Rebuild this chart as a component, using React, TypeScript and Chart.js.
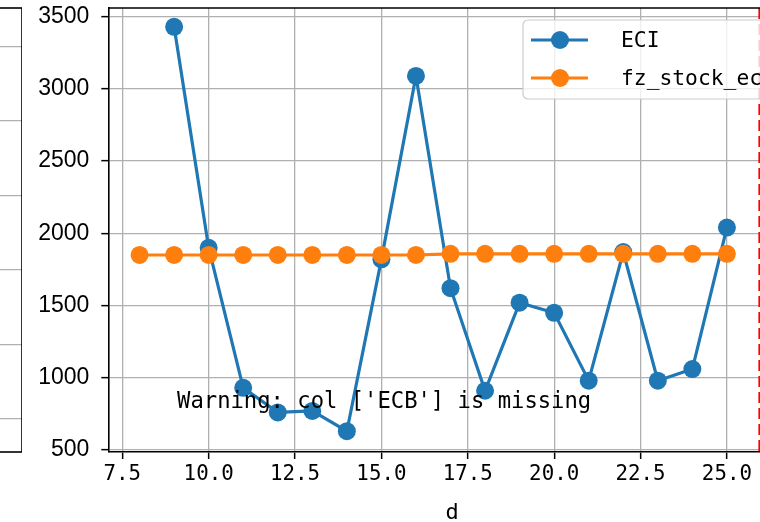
import React, { useEffect, useRef } from "react";
import { Chart, registerables } from "chart.js";

Chart.register(...registerables);

// ---- data ----
const ECI_X = [9, 10, 11, 12, 13, 14, 15, 16, 17, 18, 19, 20, 21, 22, 23, 24, 25];
const ECI_VALUES = [3430, 1900, 930, 760, 770, 630, 1820, 3090, 1620, 910, 1520, 1450, 980, 1870, 980, 1060, 2040];
const FZ_X = [8, 9, 10, 11, 12, 13, 14, 15, 16, 17, 18, 19, 20, 21, 22, 23, 24, 25];
const FZ_VALUES = [1850, 1850, 1850, 1850, 1850, 1850, 1850, 1850, 1850, 1858, 1858, 1858, 1858, 1858, 1858, 1858, 1858, 1858];
const SERIES_LABELS = ["ECI", "fz_stock_eci"];
const X_TICKS = [7.5, 10, 12.5, 15, 17.5, 20, 22.5, 25];
const Y_TICKS = [500, 1000, 1500, 2000, 2500, 3000, 3500];
const X_RANGE = [7.095, 27.0];
const Y_RANGE = [486, 3560];
const MARKER_LINE_X = 25.94;
const X_TITLE = "d";
const WARNING_TEXT = "Warning: col ['ECB'] is missing";
const LEFT_TICKS = [1, 2, 3, 4, 5, 6];
const LEFT_RANGE = [0.55, 6.52];

const BLUE = "#1f77b4";
const ORANGE = "#ff7f0e";
const GRID = "#b0b0b0";
const MONO = "'DejaVu Sans Mono', monospace";

const App: React.FC = () => {
  const mainRef = useRef<HTMLCanvasElement | null>(null);
  const leftRef = useRef<HTMLCanvasElement | null>(null);

  useEffect(() => {
    if (!mainRef.current || !leftRef.current) return;

    const decor = {
      id: "decor",
      beforeDatasetsDraw(chart: any) {
        const { ctx, chartArea } = chart;
        const xs = chart.scales.x;
        const px = xs.getPixelForValue(MARKER_LINE_X);
        ctx.save();
        ctx.strokeStyle = "red";
        ctx.lineWidth = 2;
        ctx.setLineDash([11, 5]);
        ctx.beginPath();
        ctx.moveTo(px, chartArea.top);
        ctx.lineTo(px, chartArea.bottom);
        ctx.stroke();
        ctx.restore();
      },
      afterDatasetsDraw(chart: any) {
        const { ctx, chartArea } = chart;
        const { left, right, top, bottom } = chartArea;
        const w = right - left;
        const h = bottom - top;
        ctx.save();
        // spines
        ctx.strokeStyle = "#000";
        ctx.lineWidth = 1.6;
        ctx.beginPath();
        ctx.moveTo(left, top);
        ctx.lineTo(right, top);
        ctx.lineTo(right, bottom);
        ctx.stroke();

        // warning text
        ctx.fillStyle = "#000";
        ctx.font = `22.2px ${MONO}`;
        ctx.textAlign = "left";
        ctx.textBaseline = "alphabetic";
        ctx.fillText(WARNING_TEXT, left + 0.1 * w, bottom - 0.1 * h);

        // legend
        const lx = right - 273;
        const ly = top + 12;
        const lw = 263;
        const lh = 79;
        ctx.beginPath();
        ctx.roundRect(lx, ly, lw, lh, 5);
        ctx.fillStyle = "rgba(255,255,255,0.8)";
        ctx.fill();
        ctx.strokeStyle = "#cccccc";
        ctx.lineWidth = 1.2;
        ctx.stroke();
        const colors = [BLUE, ORANGE];
        SERIES_LABELS.forEach((label, i) => {
          const cy = ly + 20 + i * 38;
          ctx.strokeStyle = colors[i];
          ctx.lineWidth = 3.2;
          ctx.beginPath();
          ctx.moveTo(lx + 8, cy);
          ctx.lineTo(lx + 65, cy);
          ctx.stroke();
          ctx.fillStyle = colors[i];
          ctx.beginPath();
          ctx.arc(lx + 37, cy, 9, 0, Math.PI * 2);
          ctx.fill();
          ctx.fillStyle = "#000";
          ctx.font = `21.3px ${MONO}`;
          ctx.textBaseline = "middle";
          ctx.fillText(label, lx + 98, cy + 1);
        });
        ctx.restore();
      },
    };

    const main = new Chart(mainRef.current, {
      type: "line",
      data: {
        datasets: [
          {
            label: SERIES_LABELS[0],
            data: ECI_X.map((x, i) => ({ x, y: ECI_VALUES[i] })),
            borderColor: BLUE,
            backgroundColor: BLUE,
            borderWidth: 3.2,
            pointRadius: 9,
            pointHoverRadius: 9,
            pointBorderWidth: 0,
            tension: 0,
            order: 1,
          },
          {
            label: SERIES_LABELS[1],
            data: FZ_X.map((x, i) => ({ x, y: FZ_VALUES[i] })),
            borderColor: ORANGE,
            backgroundColor: ORANGE,
            borderWidth: 3.2,
            pointRadius: 9,
            pointHoverRadius: 9,
            pointBorderWidth: 0,
            tension: 0,
            order: 0,
          },
        ],
      },
      options: {
        animation: false,
        responsive: false,
        maintainAspectRatio: false,
        events: [],
        layout: { autoPadding: false, padding: { top: 8, left: 0, right: 0, bottom: 0 } },
        plugins: { legend: { display: false }, tooltip: { enabled: false } },
        scales: {
          x: {
            type: "linear",
            min: X_RANGE[0],
            max: X_RANGE[1],
            afterBuildTicks: (s: any) => {
              s.ticks = X_TICKS.map((v) => ({ value: v }));
            },
            afterFit: (s: any) => {
              s.height = 70;
              s.paddingLeft = 0;
              s.paddingRight = 0;
            },
            ticks: {
              color: "#000",
              font: { family: MONO, size: 20.8 },
              padding: 3,
              maxRotation: 0,
              autoSkip: false,
              callback: (v: any) => Number(v).toFixed(1),
            },
            grid: { color: GRID, lineWidth: 1.3, tickColor: "#000", tickLength: 7, tickWidth: 1.5 },
            border: { display: true, color: "#000", width: 1.6 },
            title: {
              display: true,
              text: X_TITLE,
              color: "#000",
              font: { family: MONO, size: 22 },
              padding: { top: 0, bottom: -4 },
            },
          },
          y: {
            type: "linear",
            min: Y_RANGE[0],
            max: Y_RANGE[1],
            afterBuildTicks: (s: any) => {
              s.ticks = Y_TICKS.map((v) => ({ value: v }));
            },
            afterFit: (s: any) => {
              s.width = 108.3;
              s.paddingTop = 0;
              s.paddingBottom = 0;
            },
            ticks: {
              color: "#000",
              font: { family: "'Liberation Sans', Arial, sans-serif", size: 23 },
              padding: 12,
              callback: (v: any) => String(v),
            },
            grid: { color: GRID, lineWidth: 1.3, tickColor: "#000", tickLength: 7, tickWidth: 1.5 },
            border: { display: true, color: "#000", width: 1.6 },
          },
        },
      },
      plugins: [decor],
    } as any);

    const frame = {
      id: "frame",
      afterDraw(chart: any) {
        const { ctx, chartArea } = chart;
        ctx.save();
        ctx.strokeStyle = "#000";
        ctx.lineWidth = 1.6;
        ctx.strokeRect(chartArea.left, chartArea.top, chartArea.right - chartArea.left, chartArea.bottom - chartArea.top);
        ctx.restore();
      },
    };

    const left = new Chart(leftRef.current, {
      type: "scatter",
      data: { datasets: [{ data: [] }] },
      options: {
        animation: false,
        responsive: false,
        maintainAspectRatio: false,
        events: [],
        layout: { autoPadding: false, padding: { top: 8, bottom: 70, left: 0, right: 0 } },
        plugins: { legend: { display: false }, tooltip: { enabled: false } },
        scales: {
          x: { display: false, min: 0, max: 1 },
          y: {
            min: LEFT_RANGE[0],
            max: LEFT_RANGE[1],
            afterBuildTicks: (s: any) => {
              s.ticks = LEFT_TICKS.map((v) => ({ value: v }));
            },
            afterFit: (s: any) => {
              s.width = 0;
              s.paddingTop = 0;
              s.paddingBottom = 0;
            },
            ticks: { display: false },
            grid: { color: GRID, lineWidth: 1.3, drawTicks: false },
            border: { display: false },
          },
        },
      },
      plugins: [frame],
    } as any);

    return () => {
      main.destroy();
      left.destroy();
    };
  }, []);

  return (
    <div
      style={{
        position: "absolute",
        left: 0,
        top: 0,
        width: 760,
        height: 522,
        overflow: "hidden",
        background: "#fff",
      }}
    >
      <canvas
        ref={leftRef}
        width={121.5 as any}
        height={522}
        style={{ position: "absolute", left: -100, top: 0, width: 121.5, height: 522 }}
      />
      <canvas
        ref={mainRef}
        width={796}
        height={522}
        style={{ position: "absolute", left: 0, top: 0, width: 796, height: 522 }}
      />
    </div>
  );
};

export default App;
